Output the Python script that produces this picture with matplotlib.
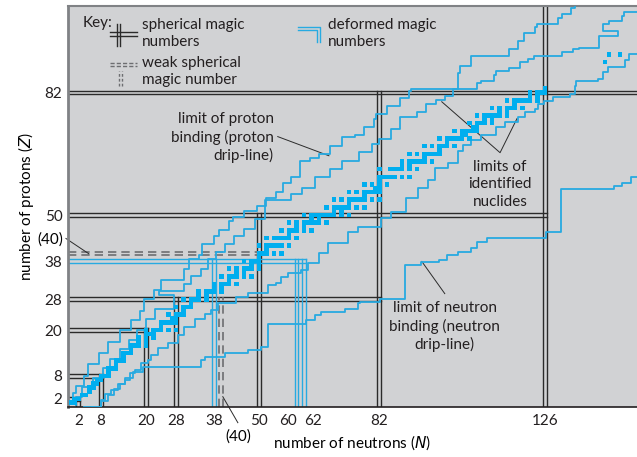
import matplotlib
matplotlib.use('Agg')
import matplotlib.pyplot as plt
from matplotlib.patches import Rectangle

plt.rcParams['font.family'] = ['Lato', 'DejaVu Sans']

# stable nuclides: proton number Z -> neutron numbers N
stable = {
    1: [0, 1], 2: [1, 2], 3: [3, 4], 4: [5], 5: [5, 6], 6: [6, 7], 7: [7, 8],
    8: [8, 9, 10], 9: [10], 10: [10, 11, 12], 11: [12], 12: [12, 13, 14],
    13: [14], 14: [14, 15, 16], 15: [16], 16: [16, 17, 18, 20], 17: [18, 20],
    18: [18, 20, 22], 19: [20, 21, 22], 20: [20, 22, 23, 24, 26, 28], 21: [24],
    22: [24, 25, 26, 27, 28], 23: [27, 28], 24: [26, 28, 29, 30], 25: [30],
    26: [28, 30, 31, 32], 27: [32], 28: [30, 32, 33, 34, 36], 29: [34, 36],
    30: [34, 36, 37, 38, 40], 31: [38, 40], 32: [38, 40, 41, 42, 44], 33: [42],
    34: [40, 42, 43, 44, 46, 48], 35: [44, 46], 36: [42, 44, 46, 47, 48, 50],
    37: [48, 50], 38: [46, 48, 49, 50], 39: [50], 40: [50, 51, 52, 54, 56],
    41: [52], 42: [50, 52, 53, 54, 55, 56, 58], 44: [52, 54, 55, 56, 57, 58, 60],
    45: [58], 46: [56, 58, 59, 60, 62, 64], 47: [60, 62],
    48: [58, 60, 62, 63, 64, 65, 66, 68], 49: [64, 66],
    50: [62, 64, 65, 66, 67, 68, 69, 70, 72, 74], 51: [70, 72],
    52: [68, 70, 71, 72, 73, 74, 76, 78], 53: [74],
    54: [70, 72, 74, 75, 76, 77, 78, 80, 82], 55: [78],
    56: [74, 76, 78, 79, 80, 81, 82], 57: [81, 82], 58: [78, 80, 82, 84],
    59: [82], 60: [82, 83, 84, 85, 86, 88, 90], 62: [82, 85, 86, 87, 88, 90, 92],
    63: [88, 90], 64: [88, 90, 91, 92, 93, 94, 96], 65: [94],
    66: [90, 92, 94, 95, 96, 97, 98], 67: [98], 68: [94, 96, 98, 99, 100, 102],
    69: [100], 70: [98, 100, 101, 102, 103, 104, 106], 71: [104, 105],
    72: [102, 104, 105, 106, 107, 108], 73: [107, 108], 74: [106, 108, 109, 110, 112],
    75: [110, 112], 76: [108, 110, 111, 112, 113, 114, 116], 77: [114, 116],
    78: [112, 114, 116, 117, 118, 120], 79: [118],
    80: [116, 118, 119, 120, 121, 122, 124], 81: [122, 124],
    82: [122, 124, 125, 126], 83: [126], 90: [142], 92: [143, 146],
}

# proton drip-line (vertical-then-horizontal steps)
pdrip_n = [0.5, 1.5, 3.5, 4.5, 7.5, 10, 13, 16, 18.5, 19.5, 22, 24, 30, 31.5, 34, 35,
           38, 39.5, 42, 43, 46, 49.5, 52, 54.5, 56.5, 58.5, 61, 63.5, 66, 69, 72, 75.5,
           78, 80.5, 81, 84, 87.5, 90, 90.5, 93, 103, 103.5, 106.5, 110.5, 116.5, 119,
           120.5, 123.5, 124, 129.5, 130.5, 133, 134, 138]
pdrip_z = [1.5, 3.5, 5.5, 8, 11, 14, 17, 20, 22.5, 25, 28, 30.5, 33, 36, 38.5, 39.5,
           42.5, 44.5, 46, 48.5, 49.5, 51, 52.5, 54.5, 56, 58.5, 60, 64, 65, 66, 68, 70.5,
           71, 73, 75, 76.5, 78.5, 80.5, 82.5, 83, 83, 87, 89, 91.5, 91.5, 93.5,
           95.5, 97.5, 99, 100, 101.5, 102.5, 104, 105]

# limit of identified nuclides, proton-rich side
pid_n = [1.5, 3, 6, 8.5, 10.5, 13, 15.5, 17.5, 20, 22.5, 27.5, 23.5, 30, 32, 34.5, 36.5,
         38.5, 41, 43.5, 46, 49, 51.5, 58.5, 61.5, 65, 69, 72, 76.5, 80, 82, 85, 87.5,
         92, 94.5, 97, 99.5, 101.5, 108, 109, 112.5, 113, 116.5, 119.5, 121.5, 123,
         130.5, 133.5, 135, 140.5, 145.5, 141.5, 143, 146.5, 147, 151]
pid_z = [0.5, 2.5, 5, 7.5, 10, 12.5, 15, 17.5, 20, 23, 25.5, 29.2, 30.2, 32, 34, 36,
         38.5, 40.5, 42.5, 44.5, 46.5, 49, 54, 55.5, 57, 60, 62, 64, 66.5, 68.5, 70,
         72.5, 75.5, 77, 79, 80, 81, 83, 84.5, 85, 86.5, 87.5, 88.5, 90, 90.7,
         91.5, 92.5, 93.3, 93.7, 96.8, 98, 99.8, 100.8, 102, 103]

# limit of identified nuclides, neutron-rich side (horizontal-then-vertical steps)
nid_n = [3.5, 8, 9, 10.7, 12.5, 14.3, 15.6, 17, 18.7, 20.5, 21.4, 23.2, 25.8, 28.5, 30.2,
         32.9, 35.6, 37.3, 39.1, 44, 47, 52.4, 54.6, 55.9, 57.7, 61.2, 63, 66, 68.3, 73.7,
         76.3, 82.5, 85.2, 89.1, 92.3, 94.9, 96.7, 100.2, 102.9, 104.2, 106.4, 109.1,
         113.1, 115.3, 118.8, 120.6, 123.3, 124.2, 125.9, 128.2, 132.6, 133.9, 134.3,
         140.1, 141.4, 142.8, 147.2, 148.5, 151]
nid_z = [0, 1.7, 3.4, 4.3, 6, 6.9, 8.7, 9.5, 11.3, 12.1, 13.4, 15.2, 16.5, 18.7, 20.8,
         23, 24.3, 25.2, 27, 28.5, 29.6, 31.7, 32.2, 33.9, 34.8, 35.7, 37.4, 40, 42.6, 45.7,
         47, 49.2, 50.9, 54.4, 57, 59.2, 62.2, 63.6, 66.8, 68.2, 69.5, 70.8,
         73, 74.3, 75.6, 76.9, 77.8, 79.1, 79.9, 80.8, 81.7, 83.8, 85.1,
         85.6, 87.3, 88.7, 90.4, 92.1, 93]

# neutron drip-line
ndrip_n = [5.5, 8, 10, 11.5, 13, 14.5, 16.5, 19.2, 34.7, 35.6, 40.9, 47.1, 50.6, 52.4,
           62.6, 64.8, 66.6, 72.8, 76.3, 76.8, 82.1, 88.7, 93.1, 98, 100, 103, 106.5,
           108, 110.5, 126.4, 130.4, 144.5, 146.5, 149, 151]
ndrip_z = [0, 1.5, 3, 4.5, 6, 7.5, 9, 10.4, 12.1, 13, 13.9, 14.7, 15.6, 21.7,
           22.6, 23.9, 24.8, 25.6, 27, 27.4, 28, 37, 37.8, 38.3, 39.5, 40.5, 41.5,
           43, 44, 45.5, 56.8, 57.7, 58.5, 60, 61]

magic_n = [2, 8, 20, 28, 50, 82, 126]
magic_n_top = [2, 8, 20, 28, 50, 82, 110]
magic_z = [2, 8, 20, 28, 50, 82]
magic_z_end = [2, 8, 20, 82, 126, 160]
deformed_n = [38, 60, 62]
deformed_z = [38]
weak = 40

xticks = [2, 8, 20, 28, 38, 50, 60, 62, 82, 126]
yticks = [2, 8, 20, 28, 38, 50, 82]

BG = '#d1d2d4'
BLUE = '#27aae1'
SQ = '#00aeef'
DARK = '#2b2b2b'
GREY = '#6d6e71'

fig = plt.figure(figsize=(6.37, 4.57), dpi=100)
ax = fig.add_axes([68 / 637, 50 / 457, 569 / 637, 401 / 457])
ax.set_facecolor(BG)
xmin, xmax, ymin, ymax = -0.75, 150.5, -0.1, 104.6
ax.set_xlim(xmin, xmax)
ax.set_ylim(ymin, ymax)


def double(val, a, b, horiz, color, ls='-', lw=1.0):
    for off in (-0.5, 0.5):
        if horiz:
            ax.plot([a, b + 0.5], [val + off] * 2, color=color, ls=ls, lw=lw, zorder=2)
        else:
            ax.plot([val + off] * 2, [a, b + 0.5], color=color, ls=ls, lw=lw, zorder=2)


# spherical magic numbers
for n, top in zip(magic_n, magic_n_top):
    double(n, ymin, top, False, DARK)
for z, end in zip(magic_z, magic_z_end):
    double(z, xmin, end, True, DARK)
# deformed magic numbers
for n in deformed_n:
    double(n, ymin, 38, False, BLUE, lw=1.0)
for z in deformed_z:
    double(z, xmin, 62, True, BLUE, lw=1.0)
# weak spherical magic number
double(weak, xmin, 49.5, True, GREY, ls=(0, (5, 3)), lw=1.2)
double(weak, ymin, 28, False, GREY, ls=(0, (5, 3)), lw=1.2)

# limits
kw = dict(color=BLUE, lw=1.3, zorder=3)
ax.plot(pdrip_n, pdrip_z, drawstyle='steps-pre', **kw)
ax.plot(pid_n, pid_z, drawstyle='steps-pre', **kw)
ax.plot(nid_n, nid_z, drawstyle='steps-post', **kw)
ax.plot(ndrip_n, ndrip_z, drawstyle='steps-post', **kw)

# stable nuclides
sz = 1.2
for z, ns in stable.items():
    for n in ns:
        ax.add_patch(Rectangle((n - sz / 2, z - sz / 2), sz, sz, facecolor=SQ,
                               edgecolor='none', zorder=4))

# axes styling
ax.spines['right'].set_visible(False)
ax.spines['left'].set_color('#808285')
ax.spines['left'].set_linewidth(2)
ax.spines['top'].set_color('#808285')
ax.spines['top'].set_linewidth(1.5)
ax.spines['bottom'].set_color('#231f20')
ax.spines['bottom'].set_linewidth(1.2)

ax.set_xticks(xticks)
ax.set_xticklabels([str(v) for v in xticks])
ax.set_yticks(yticks)
ax.tick_params(length=0, labelsize=11, colors='#231f20')
ax.tick_params(axis='x', pad=5)
ax.tick_params(axis='y', pad=4)
for lab in ax.get_xticklabels():
    if lab.get_text() == '60':
        lab.set_ha('right')
        lab.set_x(61)
    elif lab.get_text() == '62':
        lab.set_ha('left')
        lab.set_x(60.5)

ax.set_xlabel('number of neutrons ($\\it{N}$)', fontsize=11, labelpad=4)
ax.set_ylabel('number of protons ($\\it{Z}$)', fontsize=11, labelpad=6)

# weak magic labels
ax.text(-2, 43.6, '(40)', ha='right', va='center', fontsize=11, clip_on=False)
ax.plot([-1.3, 4.8], [43.9, 39.9], color=DARK, lw=0.7, clip_on=False)
ax.text(44.4, -7.8, '(40)', ha='center', va='center', fontsize=11, clip_on=False)
ax.plot([44.4, 40.4], [-4.2, 2.6], color=DARK, lw=0.7, clip_on=False)

# annotations
tk = dict(fontsize=11, color='#231f20', linespacing=1.3, zorder=6)
ax.text(54, 70.2, 'limit of proton\nbinding (proton\ndrip-line)', ha='right',
        va='center', multialignment='right', **tk)
ax.plot([55, 68.6], [70.5, 65.5], color=DARK, lw=0.7)
ax.text(114.1, 58, 'limits of\nidentified\nnuclides', ha='center', va='center',
        multialignment='center', **tk)
ax.plot([98.6, 114.1, 118.6], [79.6, 66.3, 75.2], color=DARK, lw=0.7)
ax.text(99.4, 20.9, 'limit of neutron\nbinding (neutron\ndrip-line)', ha='center',
        va='center', multialignment='center', **tk)
ax.plot([99.4, 93.3], [29.5, 37.9], color=DARK, lw=0.7)

# key
ax.text(3.2, 100.2, 'Key:', ha='left', va='center', **tk)
ax.text(18.9, 97.5, 'spherical magic\nnumbers', ha='left', va='center', **tk)
ax.text(18.9, 87.5, 'weak spherical\nmagic number', ha='left', va='center', **tk)
ax.text(68.4, 97.5, 'deformed magic\nnumbers', ha='left', va='center', **tk)
for z in (97.9, 96.8):
    ax.plot([10.4, 17.6], [z, z], color=DARK, lw=1.0)
for n in (12.3, 13.2):
    ax.plot([n, n], [94.1, 99.8], color=DARK, lw=1.0)
for z in (89.8, 89.0):
    ax.plot([10.4, 17.6], [z, z], color=GREY, lw=1.0, ls=(0, (3, 1.5)))
for n in (12.8, 13.5):
    ax.plot([n, n], [83.8, 87.5], color=GREY, lw=1.0, ls=(0, (2, 1.5)))
ax.plot([60.4, 66.3, 66.3], [99.2, 99.2, 95.2], color=BLUE, lw=1.0)
ax.plot([60.4, 65.4, 65.4], [98.4, 98.4, 95.2], color=BLUE, lw=1.0)

fig.savefig('out.png', dpi=100, facecolor='white')
